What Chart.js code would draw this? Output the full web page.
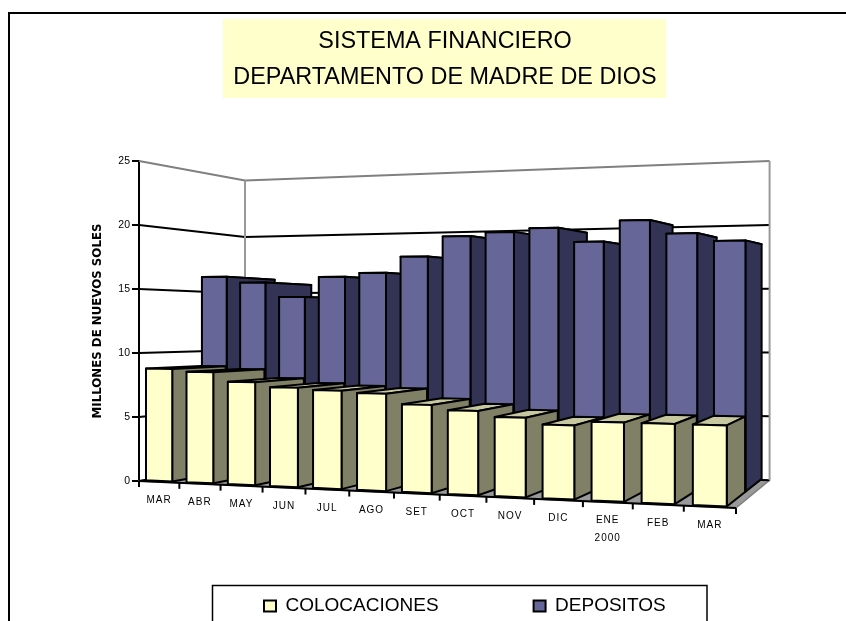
<!DOCTYPE html>
<html>
<head>
<meta charset="utf-8">
<title>Sistema financiero - Madre de Dios</title>
<script src="https://cdn.jsdelivr.net/npm/chart.js@4/dist/chart.umd.min.js"></script>
<style>
  html, body { margin: 0; padding: 0; background: #fff; overflow: hidden; }
  canvas { display: block; }
</style>
</head>
<body>
<canvas id="chart" width="846" height="621"></canvas>
<script>
const categories = ['MAR', 'ABR', 'MAY', 'JUN', 'JUL', 'AGO', 'SET', 'OCT', 'NOV', 'DIC', ['ENE', '2000'], 'FEB', 'MAR'];
const colocaciones = [8.8, 8.6, 7.9, 7.55, 7.4, 7.25, 6.5, 6.15, 5.75, 5.3, 5.6, 5.6, 5.6];
const depositos = [16.2, 15.7, 14.5, 16.1, 16.4, 17.65, 19.2, 19.45, 19.7, 18.6, 20.15, 19.1, 18.5];
const titleLines = ['SISTEMA FINANCIERO', 'DEPARTAMENTO DE MADRE DE DIOS'];

const FONT = "'Liberation Sans', Arial, sans-serif";
const LEFT_PAD = 90;
const AXIS_X = 139;

// how far each series sits from the front of the floor (0 front, 1 back)
const depths = [[0.5, 1], [0, 0.49]];
const faceColors = [
    { front: '#666699', side: '#333355', top: '#4d4d7a' },
    { front: '#ffffcc', side: '#808066', top: '#c8c8a0' }
];

// maps scale pixels + depth to the slanted perspective view of the picture
function project(chart, px, py, d) {
    const area = chart.scales.x;
    const u = (px - area.left) / (area.right - area.left);
    const w = 1 - 0.13 * u + 0.133 * d;
    return {
        x: (AXIS_X + 501.3 * u + 138.6 * d - 7 * u * d) / w,
        y: (py - 39 * u + 43.6 * d - 4 * u * d) / w
    };
}

function poly(ctx, pts, fill) {
    ctx.beginPath();
    pts.forEach((p, i) => i ? ctx.lineTo(p.x, p.y) : ctx.moveTo(p.x, p.y));
    ctx.closePath();
    if (fill) { ctx.fillStyle = fill; ctx.fill(); }
    ctx.stroke();
}

function line(ctx, pts, color, width) {
    ctx.strokeStyle = color;
    ctx.lineWidth = width;
    ctx.beginPath();
    pts.forEach((p, i) => i ? ctx.lineTo(p.x, p.y) : ctx.moveTo(p.x, p.y));
    ctx.stroke();
}

const view3d = {
    id: 'view3d',
    afterLayout(chart) {
        // legend text sits in the clipped box at the foot of the page
        const lg = chart.legend;
        lg.left = 169; lg.right = 846; lg.top = 501.5; lg.bottom = 621;
    },
    beforeDraw(chart) {
        const ctx = chart.ctx;
        ctx.save();
        ctx.fillStyle = '#ffffff';
        ctx.fillRect(0, 0, 846, 621);
        ctx.fillStyle = '#ffffcc';
        ctx.fillRect(223, 19, 443, 79);
        // page frame: only left and top edges fall inside the picture
        line(ctx, [{ x: 9, y: 621 }, { x: 9, y: 13 }, { x: 846, y: 13 }], '#000', 2);
        ctx.lineWidth = 1.5;
        ctx.strokeRect(212.5, 585.5, 494.5, 80);
        ctx.restore();
    },
    beforeDatasetsDraw(chart) {
        const ctx = chart.ctx;
        const xs = chart.scales.x;
        const ys = chart.scales.y;
        const L = xs.left, R = xs.right;
        const y0 = ys.getPixelForValue(0);
        ctx.save();
        ctx.lineJoin = 'round';

        // floor
        ctx.strokeStyle = '#808080';
        ctx.lineWidth = 1.5;
        poly(ctx, [project(chart, L, y0, 0), project(chart, R, y0, 0), project(chart, R, y0, 1), project(chart, L, y0, 1)], '#999999');

        // walls
        ys.ticks.forEach(t => {
            const py = ys.getPixelForValue(t.value);
            const c = t.value === 25 ? '#808080' : '#000000';
            line(ctx, [project(chart, L, py, 0), project(chart, L, py, 1), project(chart, R, py, 1)], c, 2);
        });
        const top = ys.getPixelForValue(25);
        line(ctx, [project(chart, L, top, 1), project(chart, L, y0, 1)], '#999999', 2);
        line(ctx, [project(chart, R, top, 1), project(chart, R, y0, 1)], '#999999', 2);

        // bars, back series first, each series left to right
        [1, 0].forEach((dsIndex, order) => {
            const meta = chart.getDatasetMeta(dsIndex);
            const [d0, d1] = depths[order];
            const col = faceColors[order];
            meta.data.forEach(bar => {
                const a = bar.x - bar.width / 2, b = bar.x + bar.width / 2;
                const t = bar.y, s = bar.base;
                ctx.strokeStyle = '#000';
                ctx.lineWidth = 2;
                poly(ctx, [project(chart, a, t, d0), project(chart, b, t, d0), project(chart, b, t, d1), project(chart, a, t, d1)], col.top);
                poly(ctx, [project(chart, b, s, d0), project(chart, b, s, d1), project(chart, b, t, d1), project(chart, b, t, d0)], col.side);
                poly(ctx, [project(chart, a, s, d0), project(chart, b, s, d0), project(chart, b, t, d0), project(chart, a, t, d0)], col.front);
            });
        });

        // front edge of the floor, ticks and month labels
        line(ctx, [project(chart, L, y0, 0), project(chart, R, y0, 0)], '#000', 2);
        categories.forEach((c, i) => {
            const e = project(chart, xs.getPixelForValue(i - 0.5), y0, 0);
            line(ctx, [e, { x: e.x, y: e.y + 6 }], '#000', 2);
        });
        const last = project(chart, xs.getPixelForValue(categories.length - 0.5), y0, 0);
        line(ctx, [last, { x: last.x, y: last.y + 6 }], '#000', 2);

        ctx.fillStyle = '#000';
        ctx.font = '10px ' + FONT;
        ctx.letterSpacing = '1px';
        ctx.textAlign = 'center';
        ctx.textBaseline = 'middle';
        categories.forEach((c, i) => {
            const p = project(chart, xs.getPixelForValue(i), y0, 0);
            [].concat(c).forEach((txt, k) => ctx.fillText(txt, p.x, p.y + 18.5 + k * 18));
        });
        ctx.restore();
        return false; // flat bars are replaced by the faces above
    }
};

new Chart(document.getElementById('chart'), {
    type: 'bar',
    data: {
        labels: categories,
        datasets: [
            { label: 'COLOCACIONES', data: colocaciones, backgroundColor: '#ffffcc', borderColor: '#000', borderWidth: 2 },
            { label: 'DEPOSITOS', data: depositos, backgroundColor: '#666699', borderColor: '#000', borderWidth: 2 }
        ]
    },
    options: {
        responsive: false,
        animation: false,
        layout: { padding: { left: LEFT_PAD, right: 46, top: 0, bottom: 100 } },
        datasets: { bar: { grouped: false, barPercentage: 0.65, categoryPercentage: 1 } },
        scales: {
            x: { display: false },
            y: {
                min: 0,
                max: 25,
                afterFit(scale) { scale.width = AXIS_X - LEFT_PAD; },
                ticks: { stepSize: 5, color: '#000', padding: 2, font: { family: FONT, size: 10.5 } },
                grid: { drawOnChartArea: false, color: '#000', lineWidth: 2, tickLength: 7 },
                border: { color: '#000', width: 2 },
                title: {
                    display: true,
                    text: 'MILLONES DE NUEVOS SOLES',
                    color: '#000',
                    padding: { top: 1, bottom: 0 },
                    font: { family: "'DejaVu Sans', sans-serif", size: 11.8, weight: 'bold' }
                }
            }
        },
        plugins: {
            title: {
                display: true,
                text: titleLines,
                color: '#000',
                padding: { top: 24, bottom: 65 },
                font: { family: FONT, size: 23.4, weight: 'normal', lineHeight: 36 / 23.4 }
            },
            legend: {
                position: 'bottom',
                align: 'start',
                maxHeight: 40,
                labels: {
                    color: '#000',
                    boxWidth: 12,
                    boxHeight: 11,
                    padding: 95,
                    font: { family: FONT, size: 19 }
                }
            },
            tooltip: { enabled: false }
        }
    },
    plugins: [view3d]
});
</script>
</body>
</html>
